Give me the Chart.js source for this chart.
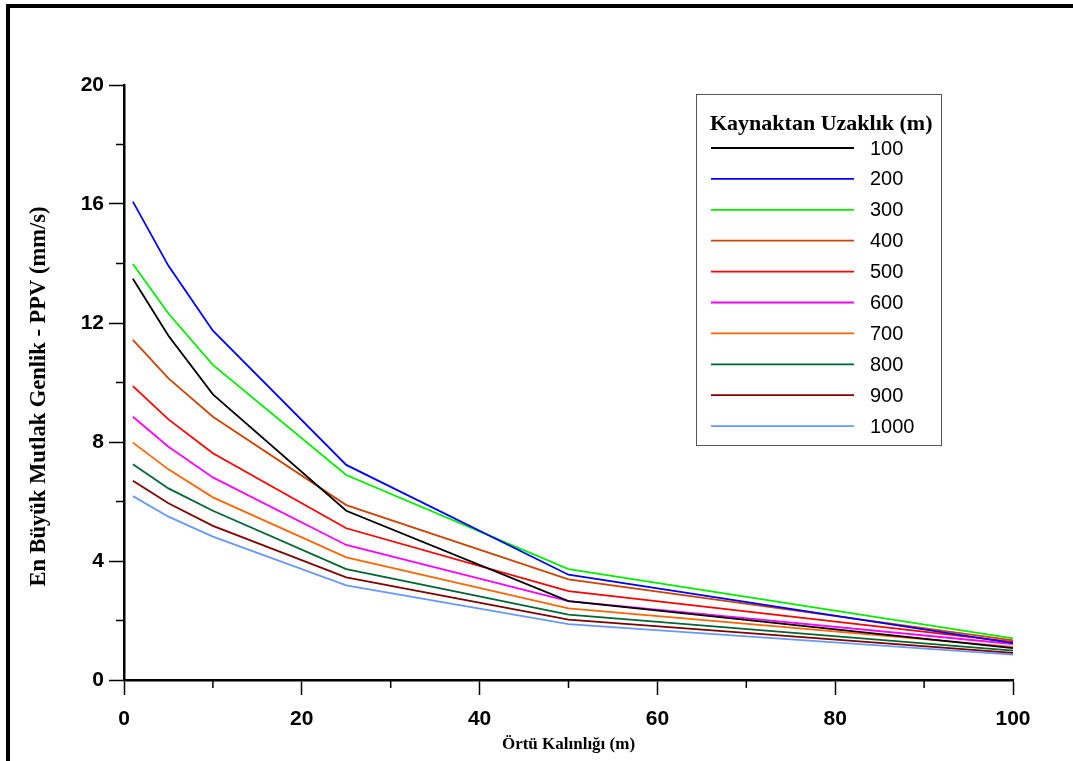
<!DOCTYPE html>
<html>
<head>
<meta charset="utf-8">
<script src="https://cdn.jsdelivr.net/npm/chart.js@4.4.0/dist/chart.umd.min.js"></script>
<style>
  html, body { margin: 0; padding: 0; background: #fff; }
</style>
</head>
<body>
<canvas id="myChart" width="1073" height="761"></canvas>
<script>
// Örtü kalınlığı (m) - x values
var thickness = [1, 5, 10, 25, 50, 100];

// Kaynaktan uzaklık (m) - one series per distance
var distances = ['100', '200', '300', '400', '500', '600', '700', '800', '900', '1000'];

var ppv100 = [13.49, 11.57, 9.60, 5.69, 2.65, 1.07];
var ppv200 = [16.08, 13.92, 11.74, 7.23, 3.54, 1.24];
var ppv300 = [13.98, 12.32, 10.59, 6.89, 3.73, 1.40];
var ppv400 = [11.43, 10.14, 8.85, 5.88, 3.38, 1.33];
var ppv500 = [9.88, 8.76, 7.62, 5.10, 2.99, 1.28];
var ppv600 = [8.85, 7.84, 6.81, 4.54, 2.65, 1.21];
var ppv700 = [7.98, 7.08, 6.14, 4.12, 2.41, 1.11];
var ppv800 = [7.25, 6.44, 5.69, 3.73, 2.20, 0.99];
var ppv900 = [6.70, 5.94, 5.18, 3.45, 2.03, 0.91];
var ppv1000 = [6.18, 5.49, 4.82, 3.18, 1.88, 0.85];

var xTickLabels = [0, 20, 40, 60, 80, 100];
var yTickLabels = [0, 4, 8, 12, 16, 20];

var allSeries = [ppv100, ppv200, ppv300, ppv400, ppv500, ppv600, ppv700, ppv800, ppv900, ppv1000];
var colors = ['#000000', '#0000ff', '#00ee00', '#cc4400', '#ff0000',
              '#ff00ff', '#ff6600', '#006633', '#800000', '#6699ff'];

var tickFont = { family: '"Liberation Sans", Arial', size: 21, weight: 'bold' };
var serif = '"Liberation Serif", "Times New Roman", serif';

var datasets = [];
for (var i = 0; i < distances.length; i++) {
    var pts = [];
    for (var j = 0; j < thickness.length; j++) {
        pts.push({ x: thickness[j], y: allSeries[i][j] });
    }
    datasets.push({
        label: distances[i],
        data: pts,
        borderColor: colors[i],
        backgroundColor: colors[i],
        borderWidth: 1.8,
        pointRadius: 0,
        fill: false,
        tension: 0
    });
}

function isMajor(list, v) {
    return list.indexOf(v) >= 0;
}

// page frame (thick black line on top and left)
var framePlugin = {
    id: 'framePlugin',
    beforeDraw: function(chart) {
        var ctx = chart.ctx;
        ctx.save();
        ctx.fillStyle = '#fff';
        ctx.fillRect(0, 0, chart.width, chart.height);
        ctx.fillStyle = '#000';
        ctx.fillRect(6, 4, chart.width - 6, 4);
        ctx.fillRect(6, 4, 4, chart.height - 4);
        ctx.restore();
    }
};

// short minor ticks
var minorTicks = {
    id: 'minorTicks',
    afterDraw: function(chart) {
        var ctx = chart.ctx;
        var xs = chart.scales.x, ys = chart.scales.y;
        ctx.save();
        ctx.strokeStyle = '#000';
        ctx.lineWidth = 1.5;
        ctx.beginPath();
        xs.ticks.forEach(function(t) {
            if (!isMajor(xTickLabels, t.value)) {
                var px = xs.getPixelForValue(t.value);
                ctx.moveTo(px, xs.top);
                ctx.lineTo(px, xs.top + 8);
            }
        });
        ys.ticks.forEach(function(t) {
            if (!isMajor(yTickLabels, t.value)) {
                var py = ys.getPixelForValue(t.value);
                ctx.moveTo(ys.right, py);
                ctx.lineTo(ys.right - 8, py);
            }
        });
        ctx.stroke();
        ctx.restore();
    }
};

// legend box inside the plot
var legendBox = {
    id: 'legendBox',
    afterDraw: function(chart) {
        var ctx = chart.ctx;
        ctx.save();
        ctx.fillStyle = '#fff';
        ctx.fillRect(696, 94, 246, 351);
        ctx.strokeStyle = '#555';
        ctx.lineWidth = 1;
        ctx.strokeRect(696.5, 94.5, 245, 351);
        ctx.fillStyle = '#000';
        ctx.textBaseline = 'middle';
        ctx.font = 'bold 22px ' + serif;
        ctx.fillText('Kaynaktan Uzaklık (m)', 710, 124);
        chart.data.datasets.forEach(function(ds, i) {
            var y = 148 + i * 30.9;
            ctx.strokeStyle = ds.borderColor;
            ctx.lineWidth = 1.8;
            ctx.beginPath();
            ctx.moveTo(711, y);
            ctx.lineTo(854, y);
            ctx.stroke();
            ctx.font = '20px "Liberation Sans"';
            ctx.fillText(ds.label, 870, y + 1);
        });
        ctx.restore();
    }
};

var config = {
    type: 'line',
    data: { datasets: datasets },
    options: {
        responsive: false,
        animation: false,
        devicePixelRatio: 1,
        layout: { padding: { left: 0, right: 60, top: 85, bottom: 0 } },
        plugins: {
            legend: { display: false },
            tooltip: { enabled: false }
        },
        scales: {
            x: {
                type: 'linear',
                min: 0,
                max: 100,
                afterFit: function(scale) { scale.height = 81; },
                ticks: {
                    stepSize: 10,
                    autoSkip: false,
                    maxRotation: 0,
                    padding: 12,
                    color: '#000',
                    font: tickFont,
                    callback: function(v) { return isMajor(xTickLabels, v) ? v : ''; }
                },
                grid: {
                    drawOnChartArea: false,
                    drawTicks: true,
                    tickLength: 15,
                    tickWidth: 1.5,
                    tickColor: function(c) { return isMajor(xTickLabels, c.tick.value) ? '#000' : 'rgba(0,0,0,0)'; }
                },
                border: { display: true, color: '#000', width: 2.5 },
                title: {
                    display: true,
                    text: 'Örtü Kalınlığı (m)',
                    color: '#000',
                    font: { family: serif, size: 17, weight: 'bold' },
                    padding: { top: 0, bottom: 6 }
                }
            },
            y: {
                min: 0,
                max: 20,
                afterFit: function(scale) { scale.width = 124; },
                ticks: {
                    stepSize: 2,
                    autoSkip: false,
                    padding: 5,
                    color: '#000',
                    font: tickFont,
                    callback: function(v) { return isMajor(yTickLabels, v) ? v : ''; }
                },
                grid: {
                    drawOnChartArea: false,
                    drawTicks: true,
                    tickLength: 15,
                    tickWidth: 1.5,
                    tickColor: function(c) { return isMajor(yTickLabels, c.tick.value) ? '#000' : 'rgba(0,0,0,0)'; }
                },
                border: { display: true, color: '#000', width: 2.5 },
                title: {
                    display: true,
                    // trailing spaces nudge the centred title a little lower, as in the original
                    text: 'En Büyük Mutlak Genlik - PPV (mm/s)\u00a0\u00a0\u00a0\u00a0\u00a0',
                    color: '#000',
                    font: { family: serif, size: 22.5, weight: 'bold' },
                    padding: { top: 26, bottom: 0 }
                }
            }
        }
    },
    plugins: [framePlugin, minorTicks, legendBox]
};

var myChart = new Chart(document.getElementById('myChart'), config);
</script>
</body>
</html>
